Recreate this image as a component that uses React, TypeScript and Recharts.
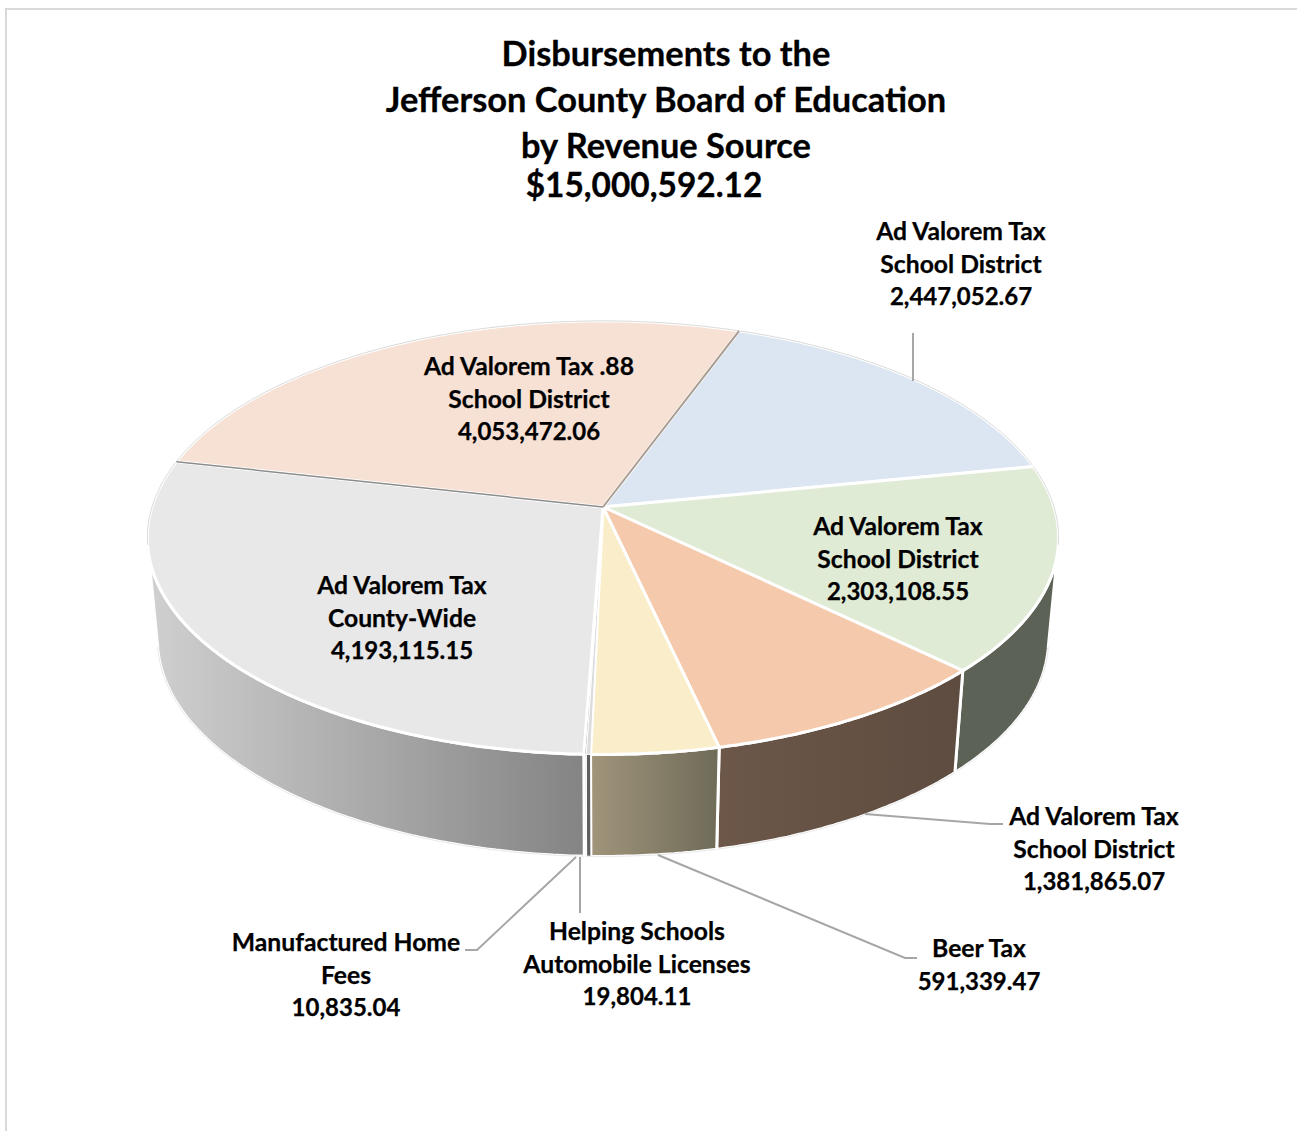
import React from 'react';
import { PieChart, Pie } from 'recharts';

const titleLines = ['Disbursements to the', 'Jefferson County Board of Education', 'by Revenue Source'];
const totalLabel = '$15,000,592.12';

const sources = [
  ['Ad Valorem Tax', 'School District'],
  ['Ad Valorem Tax', 'School District'],
  ['Ad Valorem Tax', 'School District'],
  ['Beer Tax'],
  ['Helping Schools', 'Automobile Licenses'],
  ['Manufactured Home', 'Fees'],
  ['Ad Valorem Tax', 'County-Wide'],
  ['Ad Valorem Tax .88', 'School District'],
];
const amounts = [2447052.67, 2303108.55, 1381865.07, 591339.47, 19804.11, 10835.04, 4193115.15, 4053472.06];
const amountText = ['2,447,052.67', '2,303,108.55', '1,381,865.07', '591,339.47', '19,804.11', '10,835.04', '4,193,115.15', '4,053,472.06'];

const topColors = ['#dce6f2', '#e0ebd6', '#f5c9ab', '#faeeca', '#dcdcdc', '#9a9a9a', '#e8e8e8', '#f6e1d4'];
const sideFrom = ['#6f7a88', '#5c6356', '#6c5749', '#a1957b', '#5f5f5f', '#e4e4e4', '#d0d0d0', '#8a7d74'];
const sideTo = ['#6f7a88', '#5c6356', '#5e4c40', '#6e6b58', '#5f5f5f', '#e4e4e4', '#848484', '#8a7d74'];

// label centre x, first baseline y
const labelSpots = [
  [961, 240], [898, 535], [1094, 825], [979, 957], [637, 940], [346, 951], [402, 594], [529, 375],
];
const leaders: (number[][] | null)[] = [
  [[913, 333], [913, 381]],
  null,
  [[865, 814], [990, 824], [1003, 824]],
  [[658, 855], [905, 958], [917, 958]],
  [[580, 857], [580, 913]],
  [[576, 857], [477, 950], [465, 950]],
  null,
  null,
];
// pink slice has a darker line along its two straight edges
const edgeLines = [
  { slice: 7, side: 'end', color: '#a89c90', width: 2 },
  { slice: 7, side: 'start', color: '#8c8c8c', width: 1.5 },
];

const chartData = amounts.map((value, i) => ({ name: sources[i].join(' '), value, fill: topColors[i] }));

const FONT = 'Lato, "Open Sans", sans-serif';
const CX = 603;
const CY = 507;
const RADIUS = 451;
const SQUASH = 0.471; // vertical flattening of the disc
const PERSP = 0.1415; // far edge is drawn smaller than the near edge
const DEPTH = 102;
const SHRINK = 0.978; // lower rim is a bit narrower
const WALL_RIGHT = -10; // where the side wall leaves the top rim, recharts angles
const WALL_LEFT = -170;

const rim = (angle: number, cx: number, cy: number, r: number) => {
  const rad = (angle * Math.PI) / 180;
  const w = 1 + PERSP * Math.sin(rad);
  return [cx + (r * Math.cos(rad)) / w, cy - (r * SQUASH * Math.sin(rad)) / w];
};

const arcPoints = (from: number, to: number, cx: number, cy: number, r: number) => {
  const pts: number[][] = [];
  const steps = Math.max(2, Math.ceil(Math.abs(from - to) * 2));
  for (let i = 0; i <= steps; i++) pts.push(rim(from + ((to - from) * i) / steps, cx, cy, r));
  return pts;
};

const toPath = (pts: number[][]) => pts.map((p, i) => `${i ? 'L' : 'M'}${p[0].toFixed(1)},${p[1].toFixed(1)}`).join(' ');

const SliceShape = (props: any) => {
  const { cx, cy, outerRadius, startAngle, endAngle, fill, index } = props;
  const top = arcPoints(startAngle, endAngle, cx, cy, outerRadius);
  const wedge = `${toPath([[cx, cy], ...top])} Z`;
  const borderW = index === 4 || index === 5 ? 1 : 3;

  const from = Math.min(startAngle, WALL_RIGHT);
  const to = Math.max(endAngle, WALL_LEFT);
  let wall: React.ReactNode = null;
  if (from > to) {
    const upper = arcPoints(from, to, cx, cy, outerRadius);
    const lower = upper.map((p) => [cx + (p[0] - cx) * SHRINK, p[1] + DEPTH]).reverse();
    const xs = upper.map((p) => p[0]);
    const id = `wall-${index}`;
    wall = (
      <>
        <defs>
          <linearGradient id={id} gradientUnits="userSpaceOnUse" x1={Math.min(...xs)} x2={Math.max(...xs)} y1={0} y2={0}>
            <stop offset="0" stopColor={sideFrom[index]} />
            <stop offset="1" stopColor={sideTo[index]} />
          </linearGradient>
        </defs>
        <path d={`${toPath([...upper, ...lower])} Z`} fill={`url(#${id})`} stroke="#fff" strokeWidth={borderW} />
        <path d={toPath(lower)} fill="none" stroke="#e2e2e2" strokeWidth={0.8} />
      </>
    );
  }

  // thin grey outline of the disc, back half and flanks only
  const backParts: number[][][] = [];
  if (startAngle > WALL_RIGHT) backParts.push(arcPoints(startAngle, Math.max(endAngle, WALL_RIGHT), cx, cy, outerRadius));
  if (endAngle < WALL_LEFT) backParts.push(arcPoints(Math.min(startAngle, WALL_LEFT), endAngle, cx, cy, outerRadius));

  const edges = edgeLines.filter((e) => e.slice === index);
  return (
    <g>
      {wall}
      <path d={wedge} fill={fill} stroke="#fff" strokeWidth={borderW} strokeLinejoin="round" />
      {backParts.map((pts, i) => (
        <path key={i} d={toPath(pts)} fill="none" stroke="#cfcfcf" strokeWidth={0.8} />
      ))}
      {edges.map((e) => {
        const p = rim(e.side === 'start' ? startAngle : endAngle, cx, cy, outerRadius);
        return <line key={e.side} x1={cx} y1={cy} x2={p[0]} y2={p[1]} stroke={e.color} strokeWidth={e.width} />;
      })}
    </g>
  );
};

const SliceLabel = (props: any) => {
  const { index } = props;
  const [x, y] = labelSpots[index];
  const names = sources[index];
  const leader = leaders[index];
  return (
    <g>
      {leader && <polyline points={leader.map((p) => p.join(',')).join(' ')} fill="none" stroke="#a6a6a6" strokeWidth={2} />}
      <text x={x} textAnchor="middle" fontFamily={FONT} fontWeight={700} fill="#000" stroke="#000" strokeWidth={0.25}>
        {names.map((line, i) => (
          <tspan key={i} x={x} y={y + i * 32.5} fontSize={24.7}>{line}</tspan>
        ))}
        <tspan x={x} y={y + names.length * 32.5} fontSize={24}>{amountText[index]}</tspan>
      </text>
    </g>
  );
};

const App = () => (
  <div style={{ position: 'absolute', left: 0, top: 0, width: 1297, height: 1131, background: '#fff', overflow: 'hidden' }}>
    <div style={{ position: 'absolute', left: 5, top: 8, width: 1400, height: 1300, border: '2px solid #d9d9d9' }} />
    <div style={{ position: 'absolute', left: 0, top: 0 }}>
      <PieChart width={1297} height={1131} margin={{ top: 0, right: 0, bottom: 0, left: 0 }}>
        {titleLines.map((line, i) => (
          <text key={line} x={666} y={66 + i * 46} textAnchor="middle" fontFamily={FONT} fontWeight={700} fontSize={34.4} fill="#000" stroke="#000" strokeWidth={0.3}>
            {line}
          </text>
        ))}
        <text x={644} y={197} textAnchor="middle" fontFamily={FONT} fontWeight={700} fontSize={33.4} fill="#000" stroke="#000" strokeWidth={0.3}>
          {totalLabel}
        </text>
        <Pie
          data={chartData}
          dataKey="value"
          nameKey="name"
          cx={CX}
          cy={CY}
          outerRadius={RADIUS}
          startAngle={70}
          endAngle={-290}
          stroke="none"
          shape={SliceShape}
          label={SliceLabel}
          labelLine={false}
          isAnimationActive={false}
        />
      </PieChart>
    </div>
  </div>
);

export default App;
